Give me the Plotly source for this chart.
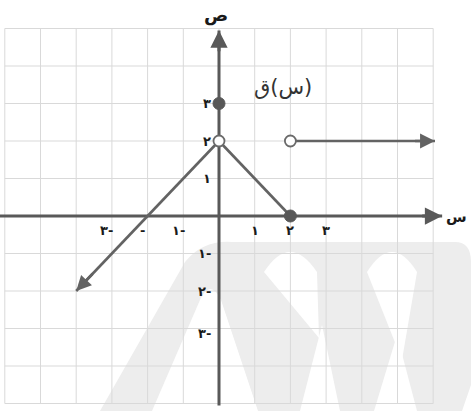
import plotly.graph_objects as go

# ---------------- data ----------------
left_x = [0, -4.0]
left_y = [2, -2.0]
mid_x = [0, 2]
mid_y = [2, 0]
right_x = [2, 6.05]
right_y = [2, 2]
closed_x = [0, 2]
closed_y = [3, 0]
open_x = [0, 2]
open_y = [2, 2]

x_tick_vals = [-3, -2, -1, 1, 2, 3]
x_tick_text = ["٣-", "-", "١-", "١", "٢", "٣"]
y_tick_vals = [3, 2, 1, -1, -2, -3]
y_tick_text = ["٣", "٢", "١", "١-", "٢-", "٣-"]

grid_x = list(range(-6, 7))
grid_y = list(range(-5, 6))

x_axis_span = [-6.2, 6.25]
y_axis_span = [-5.05, 4.95]

func_label = "ق(س)"
func_label_pos = (1.8, 3.44)
x_axis_title = "س"
y_axis_title = "ص"

# ---------------- layout constants ----------------
W, H = 471, 411
X_RANGE = [-219 / 35.7, (W - 219) / 35.7]
Y_RANGE = [-(H - 216) / 37.5, 216 / 37.5]
LINE_C = "#636363"
AXIS_C = "#595959"
GRID_C = "#d9d9d9"
WM_C = "#ededed"
FONT = "DejaVu Sans"
LRO, PDF = "\u202d", "\u202c"


def vis(s):
    return LRO + s + PDF


def P(px, py):
    return f"{px / W:.4f},{1 - py / H:.4f}"


fig = go.Figure()
shapes = []

# light watermark (decoration, paper coords)
wm_gray = ("M " + P(100, 411) + " L " + P(185, 262) + " Q " + P(203, 240) + " " + P(232, 242)
           + " L " + P(455, 242) + " Q " + P(471, 242) + " " + P(471, 262)
           + " L " + P(471, 411) + " Z")
shapes.append(dict(type="path", path=wm_gray, xref="paper", yref="paper",
                   fillcolor=WM_C, line=dict(width=0), layer="below"))
holes = [
    "M " + P(152, 411) + " L " + P(200, 300) + " Q " + P(210, 278) + " " + P(221, 300) + " L " + P(258, 411) + " Z",
    "M " + P(264, 272) + " Q " + P(290, 232) + " " + P(317, 272) + " L " + P(319, 338) + " Z",
    "M " + P(300, 411) + " L " + P(322, 325) + " L " + P(340, 411) + " Z",
    "M " + P(367, 272) + " Q " + P(392, 232) + " " + P(417, 272) + " L " + P(402, 360) + " Z",
    "M " + P(374, 411) + " L " + P(397, 335) + " L " + P(417, 411) + " Z",
    "M " + P(462, 411) + " L " + P(471, 385) + " L " + P(471, 411) + " Z",
]
for h in holes:
    shapes.append(dict(type="path", path=h, xref="paper", yref="paper",
                       fillcolor="white", line=dict(width=0), layer="below"))

# grid
for gx in grid_x:
    shapes.append(dict(type="line", x0=gx, x1=gx, y0=grid_y[0], y1=grid_y[-1],
                       xref="x", yref="y", line=dict(color=GRID_C, width=1), layer="below"))
for gy in grid_y:
    shapes.append(dict(type="line", x0=grid_x[0], x1=grid_x[-1], y0=gy, y1=gy,
                       xref="x", yref="y", line=dict(color=GRID_C, width=1), layer="below"))

# axes lines
fig.add_trace(go.Scatter(x=x_axis_span, y=[0, 0], mode="lines",
                         line=dict(color=AXIS_C, width=3), hoverinfo="skip"))
fig.add_trace(go.Scatter(x=[0, 0], y=y_axis_span, mode="lines",
                         line=dict(color=AXIS_C, width=3), hoverinfo="skip"))

# function pieces
for xs, ys in [(left_x, left_y), (mid_x, mid_y), (right_x, right_y)]:
    fig.add_trace(go.Scatter(x=xs, y=ys, mode="lines",
                             line=dict(color=LINE_C, width=2.6), hoverinfo="skip"))

fig.add_trace(go.Scatter(x=closed_x, y=closed_y, mode="markers",
                         marker=dict(size=12, color="#585858", line=dict(color="#585858", width=1))))
fig.add_trace(go.Scatter(x=open_x, y=open_y, mode="markers",
                         marker=dict(size=11, color="white", line=dict(color="#6a6a6a", width=1.8))))

annotations = []


def arrowhead(x_tail, y_tail, x_tip, y_tip, color, width):
    annotations.append(dict(x=x_tip, y=y_tip, ax=x_tail, ay=y_tail, xref="x", yref="y",
                            axref="x", ayref="y", showarrow=True, arrowhead=2,
                            arrowsize=1.15, arrowwidth=width, arrowcolor=color, text=""))


arrowhead(x_axis_span[1] - 0.6, 0, x_axis_span[1], 0, AXIS_C, 3)
arrowhead(0, y_axis_span[1] - 0.6, 0, y_axis_span[1], AXIS_C, 3)
arrowhead(left_x[1] + 0.5, left_y[1] + 0.5, left_x[1], left_y[1], LINE_C, 2.6)
arrowhead(right_x[1] - 0.6, right_y[1], right_x[1], right_y[1], LINE_C, 2.6)

# tick labels
for v, t in zip(x_tick_vals, x_tick_text):
    annotations.append(dict(x=v, y=0, xref="x", yref="y", text="<b>" + vis(t) + "</b>",
                            showarrow=False, xanchor="center", yanchor="middle",
                            xshift=-5 if v < 0 else 0, yshift=-14,
                            font=dict(family=FONT, size=13, color="#1a1a1a")))
for v, t in zip(y_tick_vals, y_tick_text):
    annotations.append(dict(x=0, y=v, xref="x", yref="y", text="<b>" + vis(t) + "</b>",
                            showarrow=False, xanchor="right", yanchor="middle", xshift=-6,
                            yshift=-5 if v == -3 else 0,
                            font=dict(family=FONT, size=13, color="#1a1a1a")))

# titles
annotations.append(dict(x=1, y=0, xref="paper", yref="y", text="<b>" + x_axis_title + "</b>",
                        showarrow=False, xanchor="right", yanchor="middle", xshift=-2, yshift=-1,
                        font=dict(family=FONT, size=15, color="#1a1a1a")))
annotations.append(dict(x=0, y=y_axis_span[1], xref="x", yref="y", text="<b>" + y_axis_title + "</b>",
                        showarrow=False, xanchor="center", yanchor="bottom", xshift=-3, yshift=2,
                        font=dict(family=FONT, size=18, color="#1a1a1a")))
annotations.append(dict(x=func_label_pos[0], y=func_label_pos[1], xref="x", yref="y",
                        text=vis(func_label), showarrow=False, xanchor="center", yanchor="middle",
                        font=dict(family=FONT, size=21, color="#333")))

fig.update_layout(
    width=W, height=H, margin=dict(l=0, r=0, t=0, b=0),
    paper_bgcolor="white", plot_bgcolor="white", showlegend=False,
    xaxis=dict(range=X_RANGE, visible=False, fixedrange=True),
    yaxis=dict(range=Y_RANGE, visible=False, fixedrange=True),
    shapes=shapes, annotations=annotations,
)

fig.write_html("out.html", config={"displayModeBar": False},
               post_script="document.body.style.margin='0';document.body.style.overflow='hidden';")
